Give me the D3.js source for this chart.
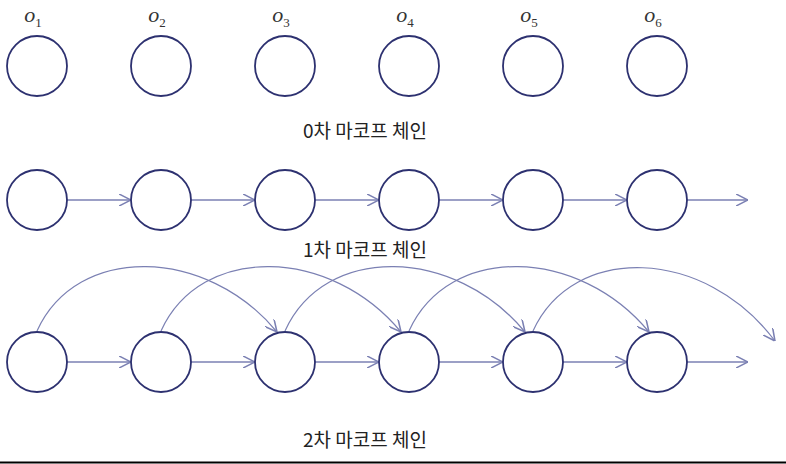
<!DOCTYPE html>
<html><head><meta charset="utf-8">
<script src="https://cdn.jsdelivr.net/npm/d3@7"></script>
<style>body{margin:0;background:#fff}</style>
</head><body>
<svg id="chart" width="786" height="464"></svg>
<script>
const states = [1, 2, 3, 4, 5, 6];
const rowTitles = ["0차 마코프 체인", "1차 마코프 체인", "2차 마코프 체인"];
const rowY = [66, 200, 362];
const titleY = [131, 250, 440];

const svg = d3.select("#chart");
const x = d3.scaleLinear().domain([1, 6]).range([37, 657]);
const r = 30;
const dark = "#2d3170", light = "#7b80b3";

svg.append("defs").append("marker")
    .attr("id", "arr").attr("viewBox", "0 0 10 10")
    .attr("refX", 10).attr("refY", 5)
    .attr("markerWidth", 12).attr("markerHeight", 12).attr("markerUnits", "userSpaceOnUse")
    .attr("orient", "auto")
    .append("path").attr("d", "M0,0 L10,5 L0,10").attr("fill", "none")
    .attr("stroke", light).attr("stroke-width", 1.3);

// state labels
const lab = svg.selectAll(".lab").data(states).enter().append("text")
    .attr("x", d => x(d) - 4).attr("y", 22)
    .attr("font-family", "Liberation Serif").attr("font-style", "italic")
    .attr("font-size", 22).attr("fill", "#333").attr("text-anchor", "middle")
    .text("o");
lab.append("tspan").attr("font-size", 13).attr("dy", 5).attr("font-style", "normal").text(d => d);

// first-order arrows
[1, 2].forEach(row => {
    svg.selectAll(".a" + row).data(states).enter().append("line")
        .attr("x1", d => x(d) + r).attr("x2", d => d < 6 ? x(d + 1) - r : 748)
        .attr("y1", rowY[row]).attr("y2", rowY[row])
        .attr("stroke", light).attr("stroke-width", 1.3).attr("marker-end", "url(#arr)");
});

// second-order arcs
svg.selectAll(".arc").data(states.slice(0, 5)).enter().append("path")
    .attr("d", d => {
        const x0 = x(d), y0 = rowY[2] - r - 1;
        const x1 = d < 5 ? x(d + 2) - 8 : 775, y1 = d < 5 ? y0 + 1 : y0 + 10;
        return `M${x0},${y0} C${x0 + 40},${y0 - 88} ${x1 - 70},${y0 - 84} ${x1},${y1}`;
    })
    .attr("fill", "none").attr("stroke", light).attr("stroke-width", 1.2)
    .attr("marker-end", "url(#arr)");

// circles
rowY.forEach(y => {
    svg.append("g").selectAll("circle").data(states).enter().append("circle")
        .attr("cx", d => x(d)).attr("cy", y).attr("r", r)
        .attr("fill", "#fff").attr("stroke", dark).attr("stroke-width", 1.8);
});

svg.selectAll(".title").data(rowTitles).enter().append("text")
    .attr("x", 365).attr("y", (d, i) => titleY[i] + 7)
    .attr("text-anchor", "middle").attr("font-size", 19)
    .attr("font-family", "Noto Sans CJK KR").attr("fill", "#222")
    .text(d => d);

svg.append("line").attr("x1", 0).attr("x2", 786).attr("y1", 462.5).attr("y2", 462.5)
    .attr("stroke", "#000").attr("stroke-width", 2);
</script>
</body></html>
